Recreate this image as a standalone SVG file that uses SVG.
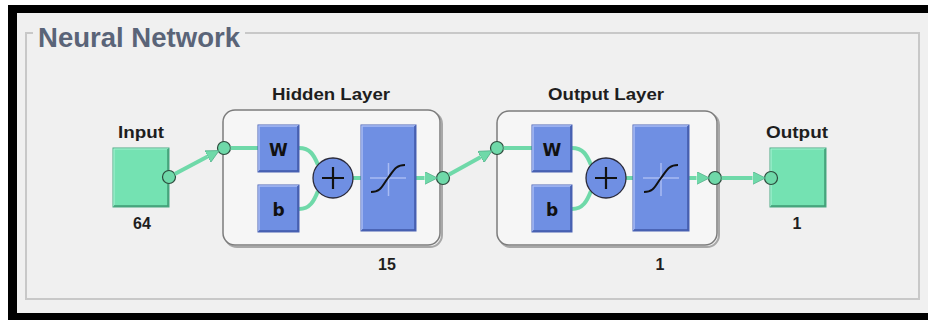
<svg xmlns="http://www.w3.org/2000/svg" width="928" height="320" viewBox="0 0 928 320">
<style>
.lbl{font-family:"Liberation Sans",Arial,sans-serif;font-weight:bold;fill:#1e1e1e;text-anchor:middle}
.layer{fill:#f6f6f6;stroke:#7c7c7c;stroke-width:1.5}
.shadow{fill:none;stroke:#a8a8a8;stroke-width:2}
.blue{fill:#6f8fe3;stroke:#4a62b4;stroke-width:1}
.hl{fill:none;stroke:#a9bcf4;stroke-width:1.5}
.sh{fill:none;stroke:#4058a8;stroke-width:1.5}
.green{fill:#74e2b2;stroke:#4aa882;stroke-width:1}
.port{fill:#6fd9a9;stroke:#2c4a3c;stroke-width:1.2}
.wire{fill:none;stroke:#6fd9a9;stroke-width:4}
.arr{marker-end:url(#ah)}
.glyph{font-family:"DejaVu Sans","Liberation Sans",sans-serif;font-weight:bold;fill:#111;text-anchor:middle}
.plus{fill:#6f8fe3;stroke:#2a2a3a;stroke-width:1.3}
</style>
<defs>
<marker id="ah" markerUnits="userSpaceOnUse" markerWidth="13" markerHeight="13" refX="0" refY="6" orient="auto" viewBox="0 0 12 12">
<path d="M0,0 L12,6 L0,12 z" fill="#6fd9a9" stroke="#4aa882" stroke-width="0.6"/>
</marker>
</defs>
<rect x="0" y="0" width="928" height="320" fill="#ffffff"/>
<rect x="8" y="5" width="920" height="315" fill="#000000"/>
<rect x="17" y="13" width="911" height="300" fill="#f0f0f0"/>
<g id="frame">
<path d="M245,33 L919,33 L919,299 L26,299 L26,33 L33,33" fill="none" stroke="#c8c8c8" stroke-width="2"/>
<text x="38" y="47" font-family="Liberation Sans,Arial,sans-serif" font-weight="bold" font-size="27" fill="#5a6478" textLength="202" lengthAdjust="spacingAndGlyphs">Neural Network</text>
</g>
<g id="input">
<rect x="113" y="148" width="56" height="59" class="green"/>
<path d="M114,206 L114,149 L168,149" fill="none" stroke="#a4f0d0" stroke-width="1.2"/>
<path d="M114,206 L168,206 L168,149" fill="none" stroke="#3f9a74" stroke-width="1.5"/>
<text x="141" y="138" font-size="16" class="lbl" textLength="46" lengthAdjust="spacingAndGlyphs">Input</text>
<text x="142" y="229" font-size="16" class="lbl">64</text>
<circle cx="169" cy="177" r="6.5" class="port"/>
</g>
<g id="hidden-layer">
<rect x="225" y="112" width="217" height="135" rx="12" class="shadow"/>
<rect x="223" y="110" width="217" height="135" rx="12" class="layer"/>
<text x="331" y="100" font-size="16" class="lbl" textLength="118" lengthAdjust="spacingAndGlyphs">Hidden Layer</text>
<text x="387" y="270" font-size="16" class="lbl">15</text>
<circle cx="224" cy="148" r="6.5" class="port"/>
<circle cx="443" cy="178" r="6.5" class="port"/>
</g>
<g id="output-layer">
<rect x="499" y="113" width="220" height="134" rx="12" class="shadow"/>
<rect x="497" y="111" width="220" height="134" rx="12" class="layer"/>
<text x="606" y="100" font-size="16" class="lbl" textLength="116" lengthAdjust="spacingAndGlyphs">Output Layer</text>
<text x="660" y="270" font-size="16" class="lbl">1</text>
<circle cx="497" cy="148" r="6.5" class="port"/>
<circle cx="715" cy="178" r="6.5" class="port"/>
</g>
<g id="output">
<rect x="770" y="148" width="56" height="59" class="green"/>
<path d="M771,206 L771,149 L825,149" fill="none" stroke="#a4f0d0" stroke-width="1.2"/>
<path d="M771,206 L825,206 L825,149" fill="none" stroke="#3f9a74" stroke-width="1.5"/>
<text x="797" y="138" font-size="16" class="lbl" textLength="62" lengthAdjust="spacingAndGlyphs">Output</text>
<text x="797" y="229" font-size="16" class="lbl">1</text>
<circle cx="771" cy="178" r="6.5" class="port"/>
</g>
<g id="connectors">
<path class="wire arr" d="M174.7,174 L207.7,156.6"/>
<path class="wire" d="M230.5,148 L258,148"/>
<path class="wire" d="M299,148 C310,148 314,155 318,165"/>
<path class="wire" d="M299,209 C310,209 314,201 318,191"/>
<path class="wire" d="M353,178 L361,178"/>
<path class="wire arr" d="M416,178 L424.5,178"/>
<path class="wire arr" d="M448.7,174.8 L480.8,157"/>
<path class="wire" d="M503.5,148 L532,148"/>
<path class="wire" d="M572,148 C583,148 587,155 591,165"/>
<path class="wire" d="M572,209 C583,209 587,201 591,191"/>
<path class="wire" d="M626,178 L633,178"/>
<path class="wire arr" d="M689,178 L696.5,178"/>
<path class="wire arr" d="M721.5,178 L752.5,178"/>
</g>
<g id="hidden-W">
<rect x="258" y="125" width="41" height="47" class="blue"/>
<path d="M259,171 L259,126 L298,126" class="hl"/>
<path d="M259,171 L298,171 L298,126" class="sh"/>
<text x="278.5" y="156" font-size="17" class="glyph">W</text>
</g>
<g id="hidden-b">
<rect x="258" y="185" width="41" height="47" class="blue"/>
<path d="M259,231 L259,186 L298,186" class="hl"/>
<path d="M259,231 L298,231 L298,186" class="sh"/>
<text x="278.5" y="216" font-size="17" class="glyph">b</text>
</g>
<g id="hidden-sum">
<circle cx="333" cy="178" r="20" class="plus"/>
<path d="M333,167 L333,189 M322,178 L344,178" stroke="#111" stroke-width="2.2"/>
</g>
<g id="hidden-tf">
<rect x="361" y="125" width="55" height="106" class="blue"/>
<path d="M362,230 L362,126 L415,126" class="hl"/>
<path d="M362,230 L415,230 L415,126" class="sh"/>
<path d="M388.5,163 L388.5,196 M370,178 L406,178" stroke="#a9bcf4" stroke-width="1.5"/>
<path d="M371,192 C381,192 382,186 388,178 C394,170 396,165 405,165" fill="none" stroke="#111" stroke-width="2"/>
</g>
<g id="output-W">
<rect x="532" y="125" width="40" height="47" class="blue"/>
<path d="M533,171 L533,126 L571,126" class="hl"/>
<path d="M533,171 L571,171 L571,126" class="sh"/>
<text x="552" y="156" font-size="17" class="glyph">W</text>
</g>
<g id="output-b">
<rect x="532" y="185" width="40" height="47" class="blue"/>
<path d="M533,231 L533,186 L571,186" class="hl"/>
<path d="M533,231 L571,231 L571,186" class="sh"/>
<text x="552" y="216" font-size="17" class="glyph">b</text>
</g>
<g id="output-sum">
<circle cx="606" cy="178" r="20" class="plus"/>
<path d="M606,167 L606,189 M595,178 L617,178" stroke="#111" stroke-width="2.2"/>
</g>
<g id="output-tf">
<rect x="633" y="125" width="56" height="106" class="blue"/>
<path d="M634,230 L634,126 L688,126" class="hl"/>
<path d="M634,230 L688,230 L688,126" class="sh"/>
<path d="M661,163 L661,196 M643,178 L679,178" stroke="#a9bcf4" stroke-width="1.5"/>
<path d="M644,192 C654,192 655,186 661,178 C667,170 669,165 678,165" fill="none" stroke="#111" stroke-width="2"/>
</g>
</svg>
